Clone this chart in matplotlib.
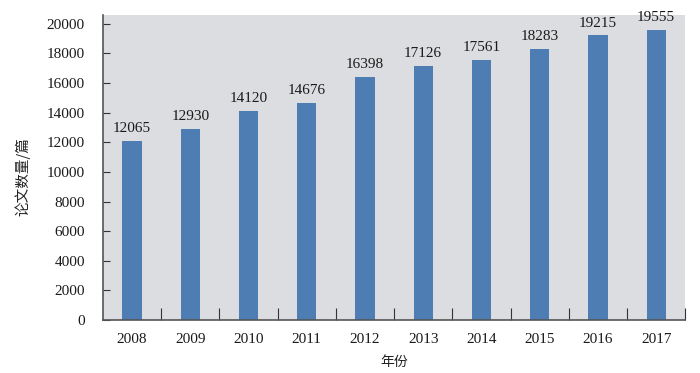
import matplotlib.pyplot as plt
import numpy as np

# data
years = ['2008', '2009', '2010', '2011', '2012', '2013', '2014', '2015', '2016', '2017']
papers = [12065, 12930, 14120, 14676, 16398, 17126, 17561, 18283, 19215, 19555]

plt.rcParams['font.family'] = ['Liberation Serif', 'Noto Sans CJK SC']

fig = plt.figure(figsize=(7, 3.73), dpi=100)
ax = fig.add_axes([0.147, 0.142, 0.832, 0.818])
ax.set_facecolor('#dcdde0')

x = np.arange(len(years))
bars = ax.bar(x, papers, width=0.33, color='#4d7db3', zorder=2)

for xi, v in zip(x, papers):
    ax.text(xi, v + 400, str(v), ha='center', va='bottom', fontsize=11, color='#1a1a1a')

ax.set_xlim(-0.5, len(years) - 0.5)
ax.set_ylim(0, 20600)
ax.set_yticks(range(0, 20001, 2000))

# tick marks between categories, labels at category centres
ax.set_xticks(np.arange(0.5, len(years), 1))
ax.set_xticklabels([])
ax.set_xticks(x, minor=True)
ax.set_xticklabels(years, minor=True)
ax.tick_params(axis='x', which='major', direction='in', length=9, color='#333333')
ax.tick_params(axis='x', which='minor', length=0, pad=9, labelsize=11, labelcolor='#1a1a1a')
ax.tick_params(axis='y', direction='in', length=5, pad=13, labelsize=11,
               labelcolor='#1a1a1a', color='#333333')

for s in ['top', 'right']:
    ax.spines[s].set_visible(False)
for s in ['left', 'bottom']:
    ax.spines[s].set_color('#555555')
    ax.spines[s].set_linewidth(1.2)

ax.set_ylabel('论文数量/篇', family=['Noto Sans CJK SC'], fontsize=10.5, color='#222222')
ax.yaxis.set_label_coords(-0.125, 0.47)
ax.set_xlabel('年份', family=['Noto Sans CJK SC'], fontsize=10, color='#222222')
ax.xaxis.set_label_coords(0.5, -0.113)

fig.savefig('out.png', dpi=100)
